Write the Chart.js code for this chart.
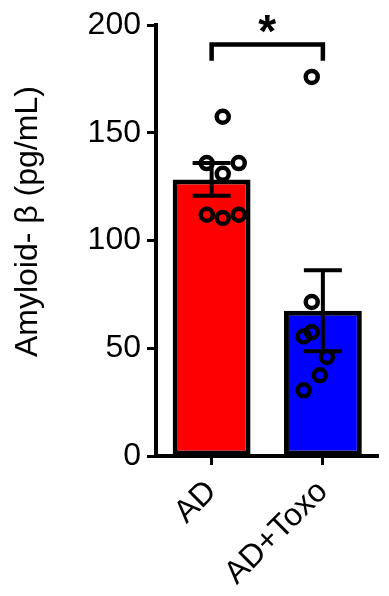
<!DOCTYPE html>
<html>
<head>
<meta charset="utf-8">
<script src="https://cdn.jsdelivr.net/npm/chart.js@4/dist/chart.umd.min.js"></script>
<style>
  html, body { margin: 0; padding: 0; background: #ffffff; overflow: hidden; }
  #wrap { width: 389px; height: 596px; position: relative; }
</style>
</head>
<body>
<div id="wrap"><canvas id="grafico"></canvas></div>
<script>
// grupos e valores
const grupos = ["AD", "AD+Toxo"];
const medias = [128.4, 67.4];
const erros = [7.6, 18.8]; // SEM
const coresBarras = ["#ff0000", "#0000ff"];

// pontos individuais (y) e deslocamento horizontal (em unidades de categoria)
const pontosAD = [157.5, 136, 136, 131, 112, 110.5, 112];
const jitterAD = [0, -0.18, 0.18, 0, -0.18, 0, 0.18];
const pontosToxo = [176, 71.5, 55.5, 57.5, 46, 37.5, 30.5];
const jitterToxo = [0, 0, -0.09, 0, 0.17, 0.09, -0.09];

// comparação estatística
const sigPar = [0, 1];
const sigTexto = "*";
const sigAltura = 191;
const sigPerna = 7.5;

const yTicks = [0, 50, 100, 150, 200];
const tituloY = "Amyloid- β (pg/mL)";

const FONTE = "'Liberation Sans', Arial, sans-serif";

const scatterData = [
  ...pontosAD.map((v, i) => ({ x: 0 + jitterAD[i], y: v })),
  ...pontosToxo.map((v, i) => ({ x: 1 + jitterToxo[i], y: v })),
];

// barras de erro (desenhadas logo depois das barras, antes dos pontos)
const errorBarsPlugin = {
  id: "errorBars",
  afterDatasetDraw(chart, args) {
    if (args.index !== 1) return;
    const ctx = chart.ctx;
    const xs = chart.scales.x;
    const ys = chart.scales.y;
    ctx.save();
    ctx.strokeStyle = "#000";
    ctx.lineWidth = 4;
    medias.forEach((m, i) => {
      const x = xs.getPixelForValue(i);
      const yTop = ys.getPixelForValue(m + erros[i]);
      const yBot = ys.getPixelForValue(m - erros[i]);
      const cap = 19;
      ctx.beginPath();
      ctx.moveTo(x, yTop);
      ctx.lineTo(x, yBot);
      ctx.moveTo(x - cap, yTop);
      ctx.lineTo(x + cap, yTop);
      ctx.moveTo(x - cap, yBot);
      ctx.lineTo(x + cap, yBot);
      ctx.stroke();
    });
    ctx.restore();
  },
};

// colchete de significância + título do eixo y
const bracketPlugin = {
  id: "bracket",
  afterDraw(chart) {
    const ctx = chart.ctx;
    const xs = chart.scales.x;
    const ys = chart.scales.y;
    const x1 = xs.getPixelForValue(sigPar[0]);
    const x2 = xs.getPixelForValue(sigPar[1]);
    const yH = ys.getPixelForValue(sigAltura);
    const yL = ys.getPixelForValue(sigAltura - sigPerna);
    ctx.save();
    ctx.strokeStyle = "#000";
    ctx.lineWidth = 4.5;
    ctx.lineCap = "butt";
    ctx.lineJoin = "miter";
    ctx.beginPath();
    ctx.moveTo(x1, yL);
    ctx.lineTo(x1, yH);
    ctx.lineTo(x2, yH);
    ctx.lineTo(x2, yL);
    ctx.stroke();
    ctx.fillStyle = "#000";
    ctx.font = "bold 46px " + FONTE;
    ctx.textAlign = "center";
    ctx.textBaseline = "alphabetic";
    ctx.fillText(sigTexto, (x1 + x2) / 2, yH + 2);

    // título do eixo y (um pouco acima do centro, como no original)
    ctx.translate(28, (ys.top + ys.bottom) / 2 - 19);
    ctx.rotate(-Math.PI / 2);
    ctx.font = "32px " + FONTE;
    ctx.textBaseline = "middle";
    ctx.fillText(tituloY, 0, 0);
    ctx.restore();
  },
};

const ctx = document.getElementById("grafico").getContext("2d");
const chart = new Chart(ctx, {
  type: "bar",
  data: {
    labels: grupos,
    datasets: [
      {
        type: "scatter",
        label: "pontos",
        data: scatterData,
        xAxisID: "xs",
        yAxisID: "y",
        pointStyle: "circle",
        pointRadius: 6,
        pointBorderWidth: 4.5,
        pointBorderColor: "#000",
        pointBackgroundColor: "rgba(0,0,0,0)",
        showLine: false,
      },
      {
        label: "média",
        data: medias,
        xAxisID: "x",
        yAxisID: "y",
        grouped: false,
        backgroundColor: coresBarras,
        borderColor: "#000",
        borderWidth: 5,
        borderSkipped: false,
        barPercentage: 0.7,
        categoryPercentage: 1.0,
      },
    ],
  },
  options: {
    responsive: true,
    maintainAspectRatio: false,
    animation: false,
    layout: { padding: { top: 24, right: 0, left: 0, bottom: 0 } },
    plugins: {
      legend: { display: false },
      tooltip: { enabled: false },
    },
    scales: {
      x: {
        type: "category",
        offset: true,
        grid: {
          drawOnChartArea: false,
          drawTicks: true,
          tickLength: 9,
          tickWidth: 3,
          tickColor: "#000",
          offset: false,
        },
        border: { color: "#000", width: 4 },
        ticks: {
          color: "#000",
          font: { family: FONTE, size: 32 },
          minRotation: 45,
          maxRotation: 45,
          padding: 8,
        },
        afterFit: (s) => { s.height = 140; },
      },
      xs: {
        type: "linear",
        display: false,
        min: -0.5,
        max: 1.5,
      },
      y: {
        min: 0,
        max: 200,
        afterBuildTicks: (s) => { s.ticks = yTicks.map((v) => ({ value: v })); },
        grid: {
          drawOnChartArea: false,
          drawTicks: true,
          tickLength: 9,
          tickWidth: 3,
          tickColor: "#000",
        },
        border: { color: "#000", width: 4 },
        ticks: {
          color: "#000",
          font: { family: FONTE, size: 32 },
          padding: 6,
        },
        afterFit: (s) => { s.width = 156; },
      },
    },
  },
  plugins: [errorBarsPlugin, bracketPlugin],
});
</script>
</body>
</html>
